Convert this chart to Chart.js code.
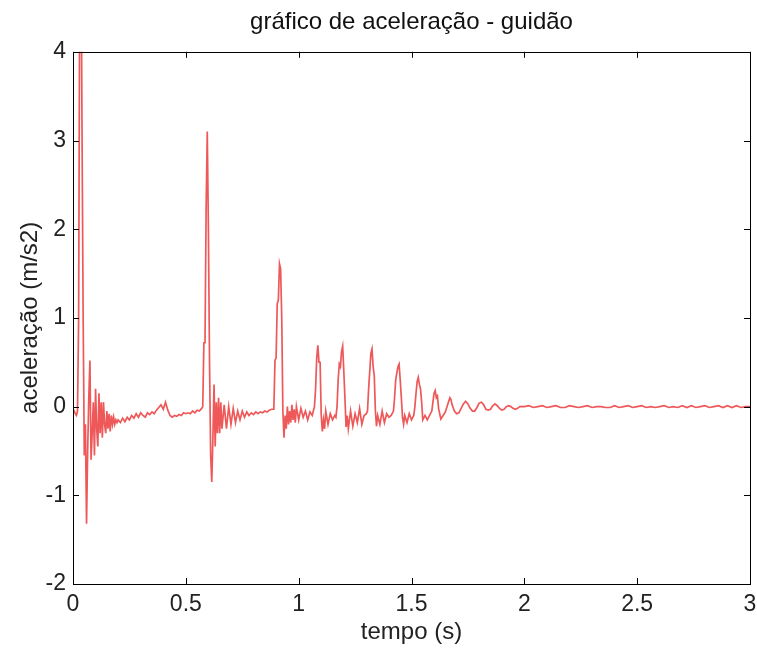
<!DOCTYPE html>
<html>
<head>
<meta charset="utf-8">
<script src="https://cdn.jsdelivr.net/npm/chart.js@4"></script>
<style>
  html, body { margin: 0; padding: 0; background: #fff; }
  #wrap { width: 757px; height: 648px; }
</style>
</head>
<body>
<div id="wrap"><canvas id="accelChart"></canvas></div>
<script>
// eixos
const xTicks = [0, 0.5, 1, 1.5, 2, 2.5, 3];
const yTicks = [-2, -1, 0, 1, 2, 3, 4];

// primeiro impacto (0 - 0.2 s)
const tempoA = [0, 0.005, 0.01, 0.015, 0.02, 0.025, 0.03, 0.035, 0.04, 0.045,
  0.05, 0.055, 0.06, 0.065, 0.07, 0.075, 0.08, 0.085, 0.09, 0.095,
  0.1, 0.105, 0.11, 0.115, 0.12, 0.125, 0.13, 0.135, 0.14, 0.145,
  0.15, 0.155, 0.16, 0.165, 0.17, 0.175, 0.18, 0.185, 0.19, 0.195, 0.2];
const acelA = [-0.02, -0.05, -0.08, -0.1, -0.05, 1.0, 5.0, 5.5, 3.1, 1.0,
  -0.55, -0.2, -1.32, -0.5, 0.1, 0.52, -0.6, -0.3, 0.05, -0.55,
  0.2, -0.25, -0.45, 0.15, -0.3, 0.05, -0.35, 0.05, -0.2, -0.3,
  -0.05, -0.25, -0.08, -0.28, -0.1, -0.2, -0.12, -0.2, -0.15, -0.18, -0.15];

// repouso (0.2 - 0.57 s)
const tempoB = [0.21, 0.22, 0.23, 0.24, 0.25, 0.26, 0.27, 0.28, 0.29, 0.3,
  0.31, 0.32, 0.33, 0.34, 0.35, 0.36, 0.37, 0.38, 0.39, 0.4,
  0.41, 0.42, 0.43, 0.44, 0.45, 0.46, 0.47, 0.48, 0.49, 0.5,
  0.51, 0.52, 0.53, 0.54, 0.55, 0.56, 0.57];
const acelB = [-0.18, -0.13, -0.17, -0.12, -0.15, -0.1, -0.13, -0.08, -0.12, -0.07,
  -0.1, -0.12, -0.07, -0.09, -0.06, -0.08, -0.04, -0.01, 0.02, -0.03,
  0.05, -0.04, -0.1, -0.12, -0.1, -0.11, -0.09, -0.1, -0.07, -0.08,
  -0.07, -0.08, -0.05, -0.07, -0.04, -0.05, -0.02];

// segundo impacto (0.575 - 0.88 s)
const tempoC = [0.575, 0.58, 0.585, 0.59, 0.595, 0.6, 0.605, 0.61, 0.615, 0.62,
  0.625, 0.63, 0.635, 0.64, 0.645, 0.65, 0.655, 0.66,
  0.67, 0.68, 0.69, 0.7, 0.71, 0.72, 0.73, 0.74, 0.75, 0.76,
  0.77, 0.78, 0.79, 0.8, 0.81, 0.82, 0.83, 0.84, 0.85, 0.86, 0.87, 0.88];
const acelC = [0.0, 0.72, 0.72, 2.25, 3.1, 2.0, 0.5, -0.55, -0.85, -0.35,
  0.25, -0.45, 0.05, -0.3, 0.1, -0.3, 0.05, -0.25,
  0.02, -0.25, 0.0, -0.2, -0.02, -0.18, -0.05, -0.15, -0.05, -0.12,
  -0.06, -0.1, -0.07, -0.09, -0.06, -0.08, -0.06, -0.07, -0.05, -0.06, -0.04, -0.03];

// terceiro impacto (0.89 - 1.065 s)
const tempoD = [0.89, 0.895, 0.9, 0.905, 0.91, 0.915, 0.92, 0.925, 0.93, 0.935,
  0.94, 0.945, 0.95, 0.955, 0.96, 0.965, 0.97, 0.975, 0.98, 0.985,
  0.99, 1.0, 1.01, 1.02, 1.03, 1.04, 1.05, 1.06, 1.065];
const acelD = [-0.03, 0.52, 0.55, 1.16, 1.2, 1.61, 1.55, 1.0, -0.05, -0.35,
  -0.1, -0.25, 0.0, -0.2, -0.05, -0.18, 0.02, -0.15, -0.03, -0.18,
  0.0, -0.15, -0.02, -0.12, -0.05, -0.15, -0.06, -0.1, -0.05];

// picos menores (1.07 - 1.59 s)
const tempoE = [1.07, 1.075, 1.08, 1.085, 1.09, 1.095, 1.1, 1.105, 1.11, 1.115,
  1.12, 1.13, 1.14, 1.15, 1.16, 1.165, 1.17, 1.175, 1.18, 1.185,
  1.19, 1.195, 1.2, 1.205, 1.21, 1.215, 1.22, 1.23, 1.24, 1.25,
  1.26, 1.27, 1.28, 1.29, 1.3, 1.305, 1.31, 1.315, 1.32, 1.325,
  1.33, 1.335, 1.34, 1.345, 1.35, 1.36, 1.37, 1.38, 1.39, 1.4,
  1.41, 1.42, 1.425, 1.43, 1.435, 1.44, 1.445, 1.45, 1.455, 1.46,
  1.465, 1.47, 1.48, 1.49, 1.5, 1.51, 1.515, 1.52, 1.525, 1.53,
  1.535, 1.54, 1.545, 1.55, 1.56, 1.57, 1.58, 1.59];
const acelE = [0.0, 0.2, 0.55, 0.69, 0.5, 0.5, -0.1, -0.28, -0.15, -0.25,
  -0.05, -0.2, -0.08, -0.15, -0.1, -0.12, 0.0, 0.3, 0.48, 0.45,
  0.62, 0.68, 0.4, 0.1, -0.23, -0.1, -0.25, -0.05, -0.22, -0.08,
  -0.18, -0.02, -0.2, -0.1, -0.08, -0.05, 0.2, 0.4, 0.6, 0.65,
  0.45, 0.35, -0.05, -0.22, -0.1, -0.2, -0.05, -0.18, -0.08, -0.12,
  -0.1, -0.05, 0.1, 0.3, 0.38, 0.45, 0.48, 0.3, 0.1, -0.12,
  -0.2, -0.1, -0.18, -0.08, -0.15, -0.1, 0.0, 0.15, 0.28, 0.33,
  0.25, 0.2, 0.05, -0.15, -0.1, -0.15, -0.1, -0.05];

// amortecimento (1.595 - 2.0 s)
const tempoF = [1.595, 1.6, 1.605, 1.61, 1.615, 1.62, 1.63, 1.64, 1.65, 1.66,
  1.67, 1.675, 1.68, 1.69, 1.7, 1.71, 1.72, 1.73, 1.74, 1.75,
  1.76, 1.77, 1.78, 1.79, 1.8, 1.81, 1.82, 1.83, 1.84, 1.85,
  1.86, 1.87, 1.88, 1.89, 1.9, 1.91, 1.92, 1.93, 1.94, 1.95,
  1.96, 1.97, 1.98, 1.99, 2.0];
const acelF = [0.05, 0.15, 0.18, 0.1, 0.12, -0.02, -0.14, -0.1, -0.06, 0.02,
  0.1, 0.08, 0.02, -0.05, -0.08, -0.07, -0.02, 0.03, 0.06, 0.03,
  -0.02, -0.05, -0.05, -0.01, 0.04, 0.05, 0.02, -0.03, -0.04, -0.03,
  0.01, 0.03, 0.01, -0.02, -0.04, -0.03, 0.0, 0.01, 0.0, -0.02,
  -0.03, -0.02, 0.0, 0.0, 0.0];

// final (2.02 - 3.0 s)
const tempoG = [2.02, 2.04, 2.06, 2.08, 2.1, 2.12, 2.14, 2.16, 2.18, 2.2,
  2.22, 2.24, 2.26, 2.28, 2.3, 2.32, 2.34, 2.36, 2.38, 2.4,
  2.42, 2.44, 2.46, 2.48, 2.5, 2.52, 2.54, 2.56, 2.58, 2.6,
  2.62, 2.64, 2.66, 2.68, 2.7, 2.72, 2.74, 2.76, 2.78, 2.8,
  2.82, 2.84, 2.86, 2.88, 2.9, 2.92, 2.94, 2.96, 2.98, 3.0];
const acelG = [0.01, -0.01, 0.0, 0.01, -0.01, 0.0, 0.01, -0.01, -0.01, 0.01,
  0.0, -0.01, 0.0, 0.01, -0.01, 0.0, 0.0, -0.01, -0.01, 0.01,
  -0.01, 0.0, 0.01, -0.01, 0.0, 0.01, -0.01, 0.0, -0.01, 0.0,
  0.01, -0.01, 0.0, -0.01, 0.01, -0.01, 0.01, -0.01, 0.0, 0.01,
  -0.01, 0.0, 0.01, -0.01, 0.01, -0.01, 0.01, -0.01, 0.0, 0.0];

const tempo = [].concat(tempoA, tempoB, tempoC, tempoD, tempoE, tempoF, tempoG);
const aceleracao = [].concat(acelA, acelB, acelC, acelD, acelE, acelF, acelG);

const FONT = "'Liberation Sans', Arial, Helvetica, sans-serif";

// caixa estilo matlab com ticks para dentro
const boxPlugin = {
  id: 'matlabBox',
  afterDraw(chart) {
    const { ctx, chartArea: a, scales } = chart;
    const len = 6;
    ctx.save();
    ctx.strokeStyle = '#000';
    ctx.lineWidth = 1;
    ctx.strokeRect(Math.round(a.left) + 0.5, Math.round(a.top) + 0.5,
      Math.round(a.right - a.left), Math.round(a.bottom - a.top));
    ctx.beginPath();
    xTicks.forEach(v => {
      const px = Math.round(scales.x.getPixelForValue(v)) + 0.5;
      ctx.moveTo(px, a.bottom); ctx.lineTo(px, a.bottom - len);
      ctx.moveTo(px, a.top); ctx.lineTo(px, a.top + len);
    });
    yTicks.forEach(v => {
      const py = Math.round(scales.y.getPixelForValue(v)) + 0.5;
      ctx.moveTo(a.left, py); ctx.lineTo(a.left + len, py);
      ctx.moveTo(a.right, py); ctx.lineTo(a.right - len, py);
    });
    ctx.stroke();
    ctx.restore();
  }
};

const ctx = document.getElementById('accelChart').getContext('2d');
new Chart(ctx, {
  type: 'line',
  data: {
    datasets: [{
      data: tempo.map((t, i) => ({ x: t, y: aceleracao[i] })),
      borderColor: 'rgb(238, 88, 88)',
      borderWidth: 1.7,
      pointRadius: 0,
      tension: 0,
      fill: false
    }]
  },
  options: {
    responsive: true,
    maintainAspectRatio: false,
    animation: false,
    layout: { padding: { left: 0, right: 7, top: 0, bottom: 0 } },
    plugins: {
      legend: { display: false },
      tooltip: { enabled: false },
      title: {
        display: true,
        fullSize: false,
        text: 'gráfico de aceleração - guidão',
        color: '#111',
        font: { family: FONT, size: 24, weight: 'normal' },
        padding: { top: 8, bottom: 15 }
      }
    },
    scales: {
      x: {
        type: 'linear',
        min: 0,
        max: 3,
        afterBuildTicks: s => { s.ticks = xTicks.map(v => ({ value: v })); },
        afterFit: s => { s.height = 64; s.paddingLeft = 0; s.paddingRight = 0; },
        grid: { display: false, drawTicks: false },
        border: { display: false },
        ticks: {
          color: '#222',
          padding: 7,
          maxRotation: 0,
          font: { family: FONT, size: 23 },
          callback: v => String(v)
        },
        title: {
          display: true,
          text: 'tempo (s)',
          color: '#222',
          font: { family: FONT, size: 24 },
          padding: { top: 0, bottom: 1 }
        }
      },
      y: {
        min: -2,
        max: 4,
        afterBuildTicks: s => { s.ticks = yTicks.map(v => ({ value: v })); },
        afterFit: s => { s.width = 73; },
        grid: { display: false, drawTicks: false },
        border: { display: false },
        ticks: {
          color: '#222',
          padding: 7,
          font: { family: FONT, size: 23 },
          callback: v => String(v)
        },
        title: {
          display: true,
          text: 'aceleração (m/s2)',
          color: '#222',
          font: { family: FONT, size: 24 },
          padding: { top: 16, bottom: 0 }
        }
      }
    }
  },
  plugins: [boxPlugin]
});
</script>
</body>
</html>
